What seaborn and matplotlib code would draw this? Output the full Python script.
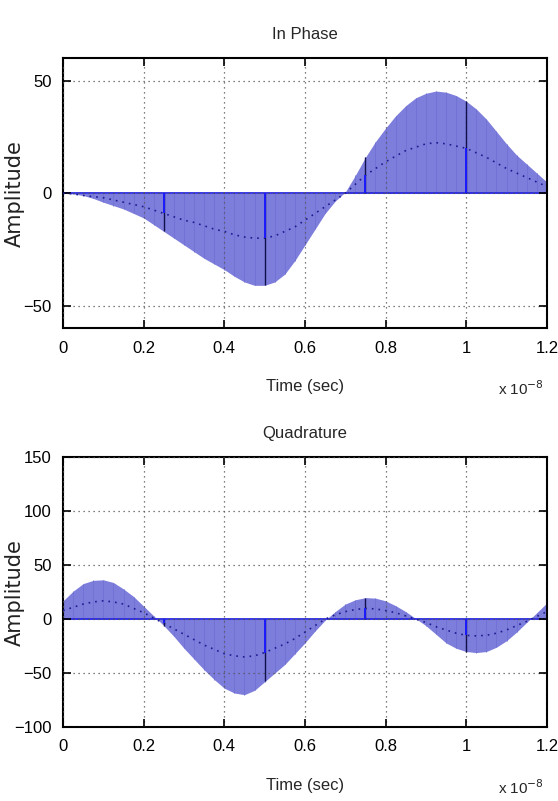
import numpy as np
import matplotlib
matplotlib.use("Agg")
import matplotlib.pyplot as plt
import seaborn as sns

# time axis in units of 1e-8 s
t = [0.0, 0.025, 0.05, 0.075, 0.1, 0.125, 0.15, 0.175, 0.2, 0.225, 0.25, 0.275,
     0.3, 0.325, 0.35, 0.375, 0.4, 0.425, 0.45, 0.475, 0.5, 0.525, 0.55, 0.575,
     0.6, 0.625, 0.65, 0.675, 0.7, 0.725, 0.75, 0.775, 0.8, 0.825, 0.85, 0.875,
     0.9, 0.925, 0.95, 0.975, 1.0, 1.025, 1.05, 1.075, 1.1, 1.125, 1.15, 1.175, 1.2]

# In Phase: modulated signal (filled stems) and baseband (dotted)
i_outer = [0, -0.3, -1, -2.3, -4, -5.5, -7, -9, -11, -14, -17, -20,
           -23, -26, -29, -31.5, -34, -37, -39.5, -41, -41, -39.5, -36, -30,
           -23, -16, -9, -3.5, 0.5, 8, 16, 23, 29, 34.5, 39, 42.5,
           44.5, 45.5, 45, 43.5, 41, 37.5, 33, 27.5, 22, 17, 13, 9, 5]
i_inner = [0, -0.3, -1, -1.5, -2, -3, -4, -5, -6, -7.5, -9, -10.5,
           -12, -13, -14.5, -16, -17, -18.5, -19.5, -20, -20, -19, -17, -15,
           -12, -9, -6, -3, 0, 4, 8, 11, 14, 16.5, 19, 20.5,
           22, 22.5, 22, 21, 20, 18, 16, 13.5, 11, 9, 7, 5, 3]

# Quadrature
q_outer = [17, 26, 33, 36, 36.5, 34, 28, 21, 12, 3, -6, -16,
           -27, -37, -47, -56, -64, -68.5, -70, -66, -58, -50, -42, -32,
           -22, -11, -1, 7, 14, 18, 20, 19.5, 17, 12.5, 7, 0.5,
           -6, -14, -22, -27, -30, -31, -30, -26, -20, -12, -3, 6, 15]
q_inner = [8, 11, 14, 16, 17, 16, 14, 10, 6, 1, -4, -9,
           -14, -19, -24, -28, -32, -34, -35, -34, -31, -27, -23, -18,
           -12, -6, 0, 4, 7, 9, 10, 9.5, 8, 6, 3, 0,
           -3, -7, -10, -13, -15, -15.5, -15, -13, -10, -6, -2, 2.5, 7]

# sample instants (every 0.25e-8 s) and stem heights
t_samp = [0.25, 0.5, 0.75, 1.0]
i_samp_outer = [-17, -41, 16, 41]
i_samp_inner = [-9, -20, 8, 20]
q_samp_outer = [-6, -57, 20, -30]
q_samp_inner = [-4, -31, 10, -15]

sns.set_style("ticks")
plt.rcParams['font.family'] = ['Liberation Sans', 'DejaVu Sans']

fig = plt.figure(figsize=(5.58, 8.01), dpi=100)
ax1 = fig.add_axes([0.113, 0.5905, 0.867, 0.3365])
ax2 = fig.add_axes([0.113, 0.0924, 0.867, 0.3365])

fill_col = '#7d7ddc'
panels = [
    (ax1, "In Phase", i_outer, i_inner, i_samp_outer, i_samp_inner, (-60, 60), [-50, 0, 50]),
    (ax2, "Quadrature", q_outer, q_inner, q_samp_outer, q_samp_inner, (-100, 150),
     [-100, -50, 0, 50, 100, 150]),
]

for ax, title, outer, inner, s_out, s_in, ylim, yticks in panels:
    ax.fill_between(t, 0, outer, color=fill_col, linewidth=0, zorder=1)
    # faint stem texture
    ax.vlines(t, 0, outer, color='#7171d4', lw=0.6, zorder=1.5)
    ax.axhline(0, color='#2a2ae0', lw=1.3, zorder=2)
    sns.lineplot(x=t, y=inner, ax=ax, color='#1c1c90', lw=1.2, linestyle=(0, (1, 3)), zorder=3)
    ax.vlines(t_samp, 0, s_out, color='#10104a', lw=1.0, zorder=3)
    ax.vlines(t_samp, 0, s_in, color='#1a1aff', lw=1.4, zorder=4)

    ax.set_xlim(0, 1.2)
    ax.set_ylim(*ylim)
    ax.set_xticks([0, 0.2, 0.4, 0.6, 0.8, 1.0, 1.2])
    ax.set_xticklabels(['0', '0.2', '0.4', '0.6', '0.8', '1', '1.2'])
    ax.set_yticks(yticks)
    ax.grid(True, color='#555555', linestyle=(0, (1, 3)), lw=0.9)
    ax.set_axisbelow(False)
    for sp in ax.spines.values():
        sp.set_visible(True)
        sp.set_color('black')
        sp.set_linewidth(1.5)
    ax.tick_params(direction='in', length=6, width=1.2, top=True, right=True,
                   labelsize=12, colors='black')
    ax.tick_params(axis='y', pad=8)
    ax.tick_params(axis='x', pad=9)

    ax.set_title(title, fontsize=12, pad=14)
    ax.set_xlabel("Time (sec)", fontsize=12)
    ax.xaxis.set_label_coords(0.5, -0.19)
    ax.set_ylabel("Amplitude", fontsize=15, family='DejaVu Sans', color='#222222')
    ax.yaxis.set_label_coords(-0.08, 0.5)
    ax.text(0.995, -0.225, r"x 10$^{-8}$", transform=ax.transAxes, ha='right', va='center',
            fontsize=11)

fig.savefig("out.png", dpi=100)
